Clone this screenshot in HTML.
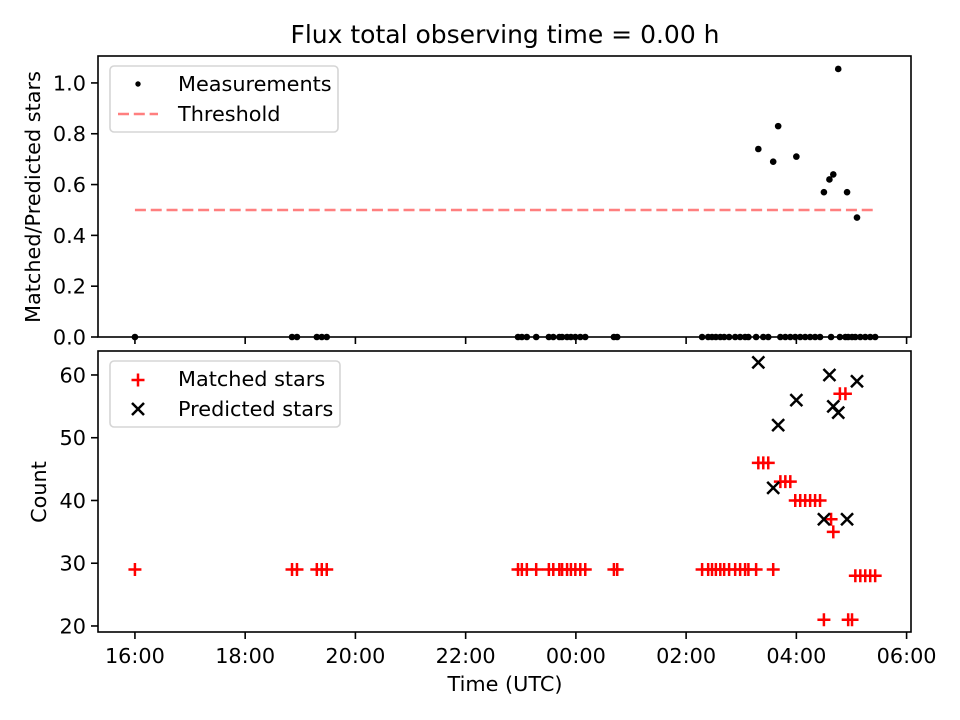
<!DOCTYPE html>
<html><head><meta charset="utf-8"><style>
body{margin:0;background:#fff}
svg{display:block;font-family:"DejaVu Sans","Liberation Sans",sans-serif}
</style></head><body>
<svg id="c" width="960" height="720" viewBox="0 0 960 720"></svg>
<script>
// hours since 16:00
const matchedTimes=[0,2.85,2.94,3.30,3.39,3.48,6.95,7.02,7.11,7.28,7.51,7.59,7.70,7.75,7.84,7.91,7.99,8.08,8.17,8.69,8.75,10.29,10.40,10.47,10.54,10.62,10.69,10.78,10.89,10.98,11.07,11.13,11.27,11.31,11.40,11.49,11.58,11.71,11.80,11.89,11.98,12.07,12.16,12.25,12.34,12.43,12.50,12.63,12.67,12.79,12.89,12.94,13.01,13.07,13.16,13.25,13.34,13.43];
const matchedCounts=[29,29,29,29,29,29,29,29,29,29,29,29,29,29,29,29,29,29,29,29,29,29,29,29,29,29,29,29,29,29,29,29,29,46,46,46,29,43,43,43,40,40,40,40,40,40,21,37,35,57,57,21,21,28,28,28,28,28];
const predTimes=[11.31,11.58,11.67,12.00,12.50,12.60,12.67,12.76,12.92,13.10];
const predCounts=[62,42,52,56,37,60,55,54,37,59];
const predRatios=[0.74,0.69,0.83,0.71,0.57,0.62,0.64,1.055,0.57,0.47];
const threshold=0.5;
const xTickHours=[0,2,4,6,8,10,12,14];
const xTickLabels=["16:00","18:00","20:00","22:00","00:00","02:00","04:00","06:00"];
const topTicks=[0,0.2,0.4,0.6,0.8,1.0];
const botTicks=[20,30,40,50,60];

const L=98,R=911;
const FS=20.8;
const x=h=>L+(h+0.67)/(14.75)*(R-L);
const yT=v=>337-(v/1.106)*(337-56);
const yB=v=>632-(v-19.04)/(63.82-19.04)*(632-351);
const svg=document.getElementById('c');
const NS='http://www.w3.org/2000/svg';
function mk(t,a,p){const e=document.createElementNS(NS,t);for(const k in a)e.setAttribute(k,a[k]);(p||svg).appendChild(e);return e;}
function txt(s,a,p){const e=mk('text',Object.assign({'font-size':FS,fill:'#000'},a),p);e.textContent=s;return e;}

const title=txt("Flux total observing time = 0.00 h",{x:505,y:43,'text-anchor':'middle','font-size':25});



// top plot
const gTop=mk('g',{});


const th=mk('line',{x1:x(0),x2:x(13.43),y1:yT(threshold),y2:yT(threshold),stroke:'#ff7f7f','stroke-width':2.5,'stroke-dasharray':'11,4.8'},gTop);


matchedTimes.forEach((t,i)=>{
  if(predTimes.indexOf(t)>=0)return;
  const c=mk('circle',{cx:x(t),cy:yT(0),r:3.3,fill:'#000'},gTop);
  
  
});
predTimes.forEach((t,i)=>{
  const c=mk('circle',{cx:x(t),cy:yT(predRatios[i]),r:3.3,fill:'#000'},gTop);
  
  
});
topTicks.forEach(v=>{
  mk('line',{x1:L-7,x2:L,y1:yT(v),y2:yT(v),stroke:'#000','stroke-width':1.6});
  txt(v.toFixed(1),{x:L-12,y:yT(v)+7.5,'text-anchor':'end'});
});
xTickHours.forEach(h=>mk('line',{x1:x(h),x2:x(h),y1:337,y2:344,stroke:'#000','stroke-width':1.6}));
mk('rect',{x:L,y:56,width:R-L,height:281,fill:'none',stroke:'#000','stroke-width':1.6});
const yl1=txt("Matched/Predicted stars",{x:0,y:0,'text-anchor':'middle',transform:'translate(40,197) rotate(-90)'});



// top legend
const lg1=mk('g',{});


mk('rect',{x:110,y:66,width:228,height:66,rx:4,fill:'#fff',stroke:'#d5d5d5','stroke-width':1.6},lg1);
mk('circle',{cx:138,cy:84,r:2.7,fill:'#000'},lg1);
txt("Measurements",{x:178,y:91},lg1);
mk('line',{x1:118,x2:158,y1:114,y2:114,stroke:'#ff7f7f','stroke-width':2.5,'stroke-dasharray':'11,4.8'},lg1);
txt("Threshold",{x:178,y:121},lg1);

// bottom plot
const gBot=mk('g',{});


matchedTimes.forEach((t,i)=>{
  const cx=x(t),cy=yB(matchedCounts[i]);
  const p=mk('path',{d:`M${cx-6.5},${cy}H${cx+6.5}M${cx},${cy-6.5}V${cy+6.5}`,stroke:'#f00','stroke-width':2.5},gBot);
  
  
});
predTimes.forEach((t,i)=>{
  const cx=x(t),cy=yB(predCounts[i]);
  const p=mk('path',{d:`M${cx-6},${cy-6}L${cx+6},${cy+6}M${cx-6},${cy+6}L${cx+6},${cy-6}`,stroke:'#000','stroke-width':2.5},gBot);
  
  
});
botTicks.forEach(v=>{
  mk('line',{x1:L-7,x2:L,y1:yB(v),y2:yB(v),stroke:'#000','stroke-width':1.6});
  txt(String(v),{x:L-12,y:yB(v)+7.5,'text-anchor':'end'});
});
xTickHours.forEach((h,i)=>{
  mk('line',{x1:x(h),x2:x(h),y1:632,y2:639,stroke:'#000','stroke-width':1.6});
  txt(xTickLabels[i],{x:x(h),y:663,'text-anchor':'middle'});
});
mk('rect',{x:L,y:351,width:R-L,height:281,fill:'none',stroke:'#000','stroke-width':1.6});
const yl2=txt("Count",{x:0,y:0,'text-anchor':'middle',transform:'translate(46,492) rotate(-90)'});


const xl=txt("Time (UTC)",{x:505,y:691,'text-anchor':'middle'});



const lg2=mk('g',{});


mk('rect',{x:110,y:361,width:230,height:66,rx:4,fill:'#fff',stroke:'#d5d5d5','stroke-width':1.6},lg2);
mk('path',{d:'M131.5,380H144.5M138,373.5V386.5',stroke:'#f00','stroke-width':2.5},lg2);
txt("Matched stars",{x:178,y:386},lg2);
mk('path',{d:'M132,403L144,415M132,415L144,403',stroke:'#000','stroke-width':2.5},lg2);
txt("Predicted stars",{x:178,y:416},lg2);
</script>
</body></html>
